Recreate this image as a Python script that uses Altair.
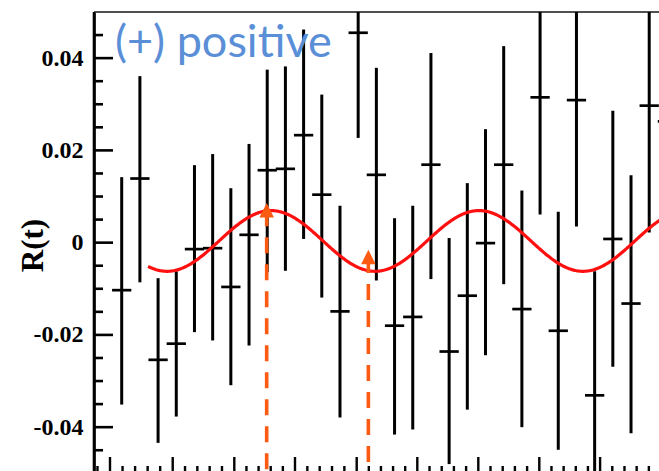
import altair as alt
import pandas as pd

# ---- data ----
bin_idx = list(range(31))
r_val = [-0.0103, 0.0139, -0.0254, -0.0219, -0.0014, -0.0012, -0.0096, 0.0017,
         0.0157, 0.0160, 0.0233, 0.0104, -0.0149, 0.0455, 0.0147, -0.0180,
         -0.0161, 0.0169, -0.0236, -0.0115, -0.0001, 0.0169, -0.0144, 0.0315,
         -0.0191, 0.0309, -0.0331, 0.0008, -0.0132, 0.0297, 0.0263]
r_lo = [-0.0351, -0.0086, -0.0434, -0.0377, -0.0194, -0.0212, -0.0309, -0.0223,
        -0.0064, -0.0061, 0.0008, -0.0119, -0.0379, 0.0227, -0.0082, -0.0416,
        -0.0405, -0.0079, -0.0480, -0.0362, -0.0244, -0.0090, -0.0400, 0.0061,
        -0.0449, 0.0035, -0.0600, -0.0269, -0.0413, 0.0022, 0.0013]
r_hi = [0.0142, 0.0361, -0.0077, -0.0062, 0.0168, 0.0192, 0.0118, 0.0214,
        0.0375, 0.0382, 0.0462, 0.0321, 0.0080, 0.0683, 0.0379, 0.0053,
        0.0080, 0.0411, 0.0010, 0.0129, 0.0246, 0.0426, 0.0113, 0.0569,
        0.0067, 0.0583, -0.0062, 0.0286, 0.0146, 0.0572, 0.0513]

# sine fit parameters (in bin units)
fit_amp = 0.00658
fit_off = 0.00037
fit_peak = 8.21
fit_period = 11.43
fit_start = 1.45
fit_end = 30.5

# arrows
arrow_x = [7.97, 13.56]
arrow_y = [0.0070, -0.0031]

# ticks
y_major = [-0.04, -0.02, 0.0, 0.02, 0.04]
y_minor = [-0.045, -0.035, -0.03, -0.025, -0.015, -0.01, -0.005,
           0.005, 0.01, 0.015, 0.025, 0.03, 0.035, 0.045]
x_major = [-0.643, 2.804, 6.190, 9.527, 12.919, 16.251, 19.604, 22.958, 26.300, 29.65]

label_text = ["(+) positive"]

# ---- layout ----
W, H = 565, 459
x_scale = alt.Scale(domain=[-1.523, 29.538], nice=False, zero=False)
y_scale = alt.Scale(domain=[-0.0495, 0.0500], nice=False, zero=False)
ORANGE = "#fb5a12"

x_minor = []
for a, b in zip(x_major[:-1], x_major[1:]):
    for f in (0.2, 0.4, 0.6, 0.8):
        x_minor.append(a + (b - a) * f)
x_minor.insert(0, x_major[0] - (x_major[1] - x_major[0]) * 0.2)

df = pd.DataFrame({"bin": bin_idx, "r": r_val, "lo": r_lo, "hi": r_hi})

yaxis = alt.Axis(
    values=y_major, ticks=False, grid=False, domain=True,
    domainColor="black", domainWidth=2.6,
    labelExpr="datum.value == 0 ? '0' : (datum.value < 0 ? '-' : '') + format(abs(datum.value), '.2f')",
    labelFont="Liberation Serif", labelFontWeight="bold", labelFontSize=24,
    labelColor="black", labelPadding=11,
    title="R(t)", titleFont="Liberation Serif", titleFontWeight="bold",
    titleFontSize=31, titleColor="black", titleAngle=270,
    titleX=-61, titleY=233, titleAlign="center", titleBaseline="middle",
)

xn = lambda f: alt.X(f, scale=x_scale, axis=None)
yn = lambda f: alt.Y(f, scale=y_scale, axis=yaxis)

bars = alt.Chart(df).mark_rule(color="black", strokeWidth=3, clip=True).encode(
    x=xn("bin:Q"), y=yn("lo:Q"), y2="hi:Q"
)
caps = alt.Chart(df).transform_calculate(
    x0="datum.bin - 0.53", x1="datum.bin + 0.53"
).mark_rule(color="black", strokeWidth=2.7, clip=True).encode(
    x=xn("x0:Q"), x2="x1:Q", y=yn("r:Q")
)

curve = alt.Chart(alt.sequence(fit_start, fit_end, 0.05, as_="t")).transform_calculate(
    r=f"{fit_off} + {fit_amp} * cos(2 * PI * (datum.t - {fit_peak}) / {fit_period})"
).mark_line(color="#ff1010", strokeWidth=3.2, clip=True).encode(
    x=xn("t:Q"), y=yn("r:Q")
)

arr_df = pd.DataFrame({"ax": arrow_x, "ay": arrow_y})
shafts = alt.Chart(arr_df).mark_rule(color=ORANGE, strokeWidth=3.6, strokeDash=[16, 11]).encode(
    x=xn("ax:Q"), y=yn("ay:Q"), y2=alt.value(H)
)
heads = alt.Chart(arr_df).mark_point(
    shape="M-1,1L1,1L0,-1Z", filled=True, size=210, color=ORANGE, opacity=1, strokeWidth=0
).encode(x=xn("ax:Q"), y=yn("ay:Q"))

ymaj = alt.Chart(pd.DataFrame({"v": y_major})).mark_rule(color="black", strokeWidth=2.6).encode(
    y=yn("v:Q"), x=alt.value(0), x2=alt.value(19)
)
ymin = alt.Chart(pd.DataFrame({"v": y_minor})).mark_rule(color="black", strokeWidth=2.6).encode(
    y=yn("v:Q"), x=alt.value(0), x2=alt.value(9)
)
xmaj = alt.Chart(pd.DataFrame({"v": x_major})).mark_rule(color="black", strokeWidth=2.4, clip=True).encode(
    x=xn("v:Q"), y=alt.value(H), y2=alt.value(H - 14)
)
xmin = alt.Chart(pd.DataFrame({"v": x_minor})).mark_rule(color="black", strokeWidth=2.4, clip=True).encode(
    x=xn("v:Q"), y=alt.value(H), y2=alt.value(H - 5)
)
top = alt.Chart(pd.DataFrame({"a": [0]})).mark_rule(color="#505050", strokeWidth=2.2).encode(
    y=alt.value(0), x=alt.value(0), x2=alt.value(W)
)
left = alt.Chart(pd.DataFrame({"a": [0]})).mark_rule(color="black", strokeWidth=2.6).encode(
    x=alt.value(0), y=alt.value(0), y2=alt.value(H)
)
label = alt.Chart(pd.DataFrame({"t": label_text})).mark_text(
    align="left", baseline="alphabetic", font="Lato", fontSize=45, color="#5a8fd8"
).encode(text="t:N", x=alt.value(21), y=alt.value(45))

chart = alt.layer(
    ymaj, ymin, xmaj, xmin, top, left, bars, caps, curve, shafts, heads, label
).properties(
    width=W, height=H,
    padding={"left": 94, "top": 12, "right": 0, "bottom": 0},
    autosize=alt.AutoSizeParams(type="none"),
).configure_view(strokeWidth=0).configure(background="white")

chart.save("out.html", embed_options={"renderer": "svg", "actions": False})
